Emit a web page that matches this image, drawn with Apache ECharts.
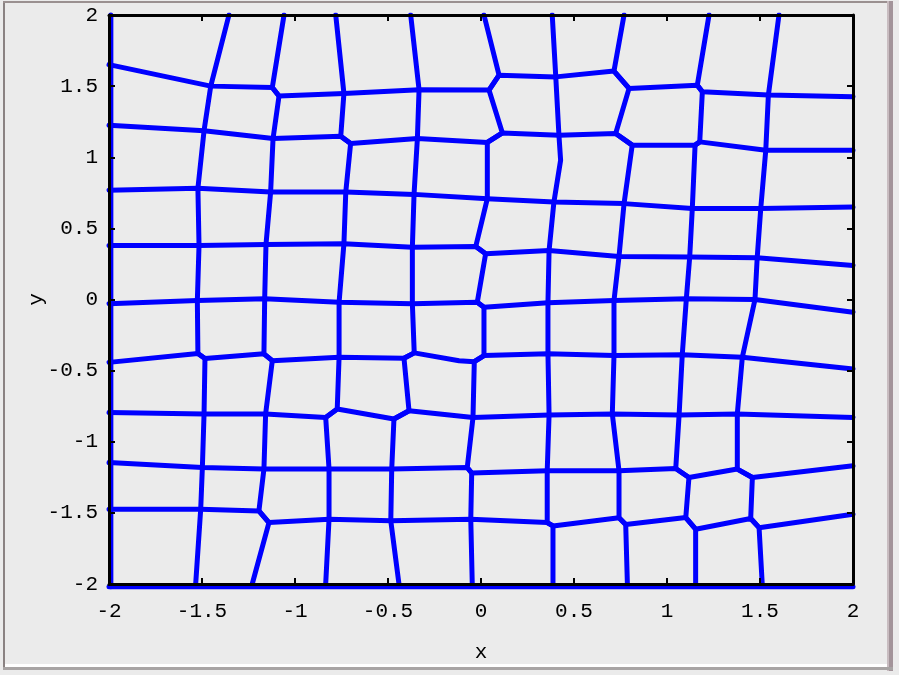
<!DOCTYPE html>
<html>
<head>
<meta charset="utf-8">
<script src="https://cdn.jsdelivr.net/npm/echarts@6/dist/echarts.min.js"></script>
<style>
html,body{margin:0;padding:0;background:#ebebeb;}
#chart{width:899px;height:675px;}
</style>
</head>
<body>
<div id="chart"></div>
<script>
// axis ticks
const xTicks = [-2, -1.5, -1, -0.5, 0, 0.5, 1, 1.5, 2];
const yTicks = [-2, -1.5, -1, -0.5, 0, 0.5, 1, 1.5, 2];

// roughly horizontal edges (left to right)
const row1 = [[-2,1.651],[-1.453,1.5],[-1.122,1.491],[-1.086,1.430],[-0.737,1.449],[-0.333,1.475],[0.043,1.472],[0.097,1.577],[0.402,1.565],[0.715,1.606],[0.796,1.484],[1.163,1.507],[1.190,1.460],[1.545,1.437],[2,1.425]];
const row2 = [[-2,1.225],[-1.489,1.187],[-1.118,1.132],[-0.754,1.148],[-0.701,1.096],[-0.342,1.132],[0.034,1.104],[0.115,1.171],[0.419,1.155],[0.724,1.167],[0.813,1.085],[1.151,1.085],[1.176,1.108],[1.531,1.049],[2,1.049]];
const row3 = [[-2,0.768],[-1.522,0.782],[-1.131,0.756],[-0.727,0.756],[-0.360,0.739],[0.034,0.709],[0.392,0.685],[0.769,0.674],[1.136,0.639],[1.504,0.639],[2,0.650]];
const row4 = [[-2,0.380],[-1.516,0.380],[-1.156,0.387],[-0.737,0.392],[-0.369,0.368],[-0.028,0.373],[0.025,0.322],[0.366,0.345],[0.742,0.303],[1.122,0.298],[1.485,0.294],[2,0.239]];
const row5 = [[-2,-0.030],[-1.525,-0.007],[-1.163,0.005],[-0.763,-0.019],[-0.369,-0.030],[-0.020,-0.019],[0.016,-0.054],[0.360,-0.023],[0.715,-0.007],[1.104,0.005],[1.473,0],[2,-0.089]];
const row6 = [[-2,-0.442],[-1.522,-0.380],[-1.484,-0.415],[-1.167,-0.382],[-1.122,-0.430],[-0.763,-0.406],[-0.414,-0.413],[-0.359,-0.375],[-0.118,-0.430],[-0.036,-0.437],[0.016,-0.394],[0.360,-0.382],[0.715,-0.394],[1.082,-0.389],[1.405,-0.406],[2,-0.488]];
const row7 = [[-2,-0.794],[-1.489,-0.805],[-1.158,-0.805],[-0.835,-0.829],[-0.773,-0.770],[-0.468,-0.840],[-0.387,-0.782],[-0.043,-0.829],[0.366,-0.812],[0.706,-0.805],[1.065,-0.812],[1.378,-0.805],[2,-0.829]];
const row8 = [[-2,-1.146],[-1.498,-1.181],[-1.167,-1.192],[-0.817,-1.192],[-0.480,-1.192],[-0.074,-1.181],[-0.050,-1.220],[0.356,-1.204],[0.742,-1.204],[1.047,-1.188],[1.118,-1.251],[1.378,-1.192],[1.459,-1.251],[2,-1.169]];
const row9 = [[-2,-1.474],[-1.507,-1.474],[-1.194,-1.486],[-1.140,-1.568],[-0.817,-1.544],[-0.485,-1.556],[-0.055,-1.544],[0.356,-1.568],[0.387,-1.592],[0.742,-1.535],[0.778,-1.582],[1.101,-1.533],[1.154,-1.615],[1.450,-1.540],[1.495,-1.604],[2,-1.509]];

// roughly vertical edges (top to bottom)
const col1 = [[-1.355,2],[-1.453,1.5],[-1.489,1.187],[-1.522,0.782],[-1.516,0.380],[-1.525,-0.007],[-1.522,-0.380],[-1.484,-0.415],[-1.489,-0.805],[-1.498,-1.181],[-1.507,-1.474],[-1.534,-2]];
const col2 = [[-1.059,2],[-1.122,1.491],[-1.086,1.430],[-1.118,1.132],[-1.131,0.756],[-1.156,0.387],[-1.163,0.005],[-1.167,-0.382],[-1.122,-0.430],[-1.158,-0.805],[-1.167,-1.192],[-1.194,-1.486],[-1.140,-1.568],[-1.230,-2]];
const col3 = [[-0.781,2],[-0.737,1.449],[-0.754,1.148],[-0.701,1.096],[-0.727,0.756],[-0.737,0.392],[-0.763,-0.019],[-0.763,-0.406],[-0.773,-0.770],[-0.835,-0.829],[-0.817,-1.192],[-0.817,-1.544],[-0.835,-2]];
const col4 = [[-0.378,2],[-0.333,1.475],[-0.342,1.132],[-0.360,0.739],[-0.369,0.368],[-0.369,-0.030],[-0.359,-0.375],[-0.414,-0.413],[-0.387,-0.782],[-0.468,-0.840],[-0.480,-1.192],[-0.485,-1.556],[-0.441,-2]];
const col5 = [[0.016,2],[0.097,1.577],[0.043,1.472],[0.115,1.171],[0.034,1.104],[0.034,0.709],[-0.028,0.373],[0.025,0.322],[-0.020,-0.019],[0.016,-0.054],[0.016,-0.394],[-0.036,-0.437],[-0.043,-0.829],[-0.074,-1.181],[-0.050,-1.220],[-0.055,-1.544],[-0.047,-2]];
const col6 = [[0.383,2],[0.402,1.565],[0.419,1.155],[0.428,0.979],[0.392,0.685],[0.366,0.345],[0.360,-0.023],[0.360,-0.382],[0.366,-0.812],[0.356,-1.204],[0.356,-1.568],[0.387,-1.592],[0.387,-2]];
const col7 = [[0.769,2],[0.715,1.606],[0.796,1.484],[0.724,1.167],[0.813,1.085],[0.769,0.674],[0.742,0.303],[0.715,-0.007],[0.715,-0.394],[0.706,-0.805],[0.742,-1.204],[0.742,-1.535],[0.778,-1.582],[0.787,-2]];
const col8 = [[1.226,2],[1.163,1.507],[1.190,1.460],[1.176,1.108],[1.151,1.085],[1.136,0.639],[1.122,0.298],[1.104,0.005],[1.082,-0.389],[1.065,-0.812],[1.047,-1.188],[1.118,-1.251],[1.101,-1.533],[1.154,-1.615],[1.154,-2]];
const col9 = [[1.602,2],[1.545,1.437],[1.531,1.049],[1.504,0.639],[1.485,0.294],[1.473,0],[1.405,-0.406],[1.378,-0.805],[1.378,-1.192],[1.459,-1.251],[1.450,-1.540],[1.495,-1.604],[1.512,-2]];

// outer boundary edges
const edgeLeft = [[-1.99,-2.02],[-1.99,2]];
const edgeBottom = [[-2,-2.02],[2,-2.02]];

const innerEdges = [row1,row2,row3,row4,row5,row6,row7,row8,row9,col1,col2,col3,col4,col5,col6,col7,col8,col9];

const BLUE = '#0000ff';
const FONT = "'Liberation Mono','DejaVu Sans Mono',monospace";

function edgeSeries(d, clip) {
  return {
    type: 'line', data: d, showSymbol: false, symbol: 'none', clip: clip,
    lineStyle: {color: BLUE, width: 5, cap: 'round', join: 'round'},
    silent: true, z: 2
  };
}
const series = innerEdges.map(d => edgeSeries(d, true));
series.push(edgeSeries(edgeLeft, false));
series.push(edgeSeries(edgeBottom, false));

const axisCommon = {
  type: 'value', min: xTicks[0], max: xTicks[xTicks.length-1], interval: 0.5,
  z: 5,
  splitLine: {show: false},
  axisLine: {show: true, onZero: false, lineStyle: {color: '#000', width: 3}},
  axisTick: {show: true, inside: true, length: 6, lineStyle: {color: '#000', width: 2}}
};
const labelStyle = {color: '#000', fontFamily: FONT, fontSize: 21};

const chart = echarts.init(document.getElementById('chart'), null, {renderer: 'canvas'});
chart.setOption({
  backgroundColor: '#ebebeb',
  animation: false,
  grid: {left: 109, right: 46, top: 15, bottom: 91, show: false},
  xAxis: [
    Object.assign({}, axisCommon, {
      position: 'bottom', name: 'x', nameLocation: 'middle', nameGap: 58, nameMoveOverlap: false,
      nameTextStyle: labelStyle,
      axisLabel: Object.assign({margin: 17, formatter: v => String(v)}, labelStyle)
    }),
    Object.assign({}, axisCommon, {position: 'top', axisLabel: {show: false}})
  ],
  yAxis: [
    Object.assign({}, axisCommon, {
      min: yTicks[0], max: yTicks[yTicks.length-1],
      position: 'left', name: 'y', nameLocation: 'middle', nameGap: 62, nameMoveOverlap: false,
      nameTextStyle: labelStyle,
      axisLabel: Object.assign({margin: 11, formatter: v => String(v)}, labelStyle)
    }),
    Object.assign({}, axisCommon, {
      min: yTicks[0], max: yTicks[yTicks.length-1],
      position: 'right', axisLabel: {show: false}
    })
  ],
  series: series,
  graphic: [
    {type: 'rect', shape: {x: 3, y: 1, width: 2, height: 669}, style: {fill: '#8a8282'}, silent: true},
    {type: 'rect', shape: {x: 3, y: 1, width: 889, height: 2}, style: {fill: '#9a9090'}, silent: true},
    {type: 'rect', shape: {x: 887, y: 1, width: 6, height: 670}, style: {fill: '#a3949a'}, silent: true},
    {type: 'rect', shape: {x: 887, y: 1, width: 2, height: 670}, style: {fill: '#c8bcc0'}, silent: true},
    {type: 'rect', shape: {x: 5, y: 664, width: 882, height: 3}, style: {fill: '#ffffff'}, silent: true},
    {type: 'rect', shape: {x: 3, y: 667, width: 890, height: 3}, style: {fill: '#a8a4a4'}, silent: true}
  ]
});
</script>
</body>
</html>
